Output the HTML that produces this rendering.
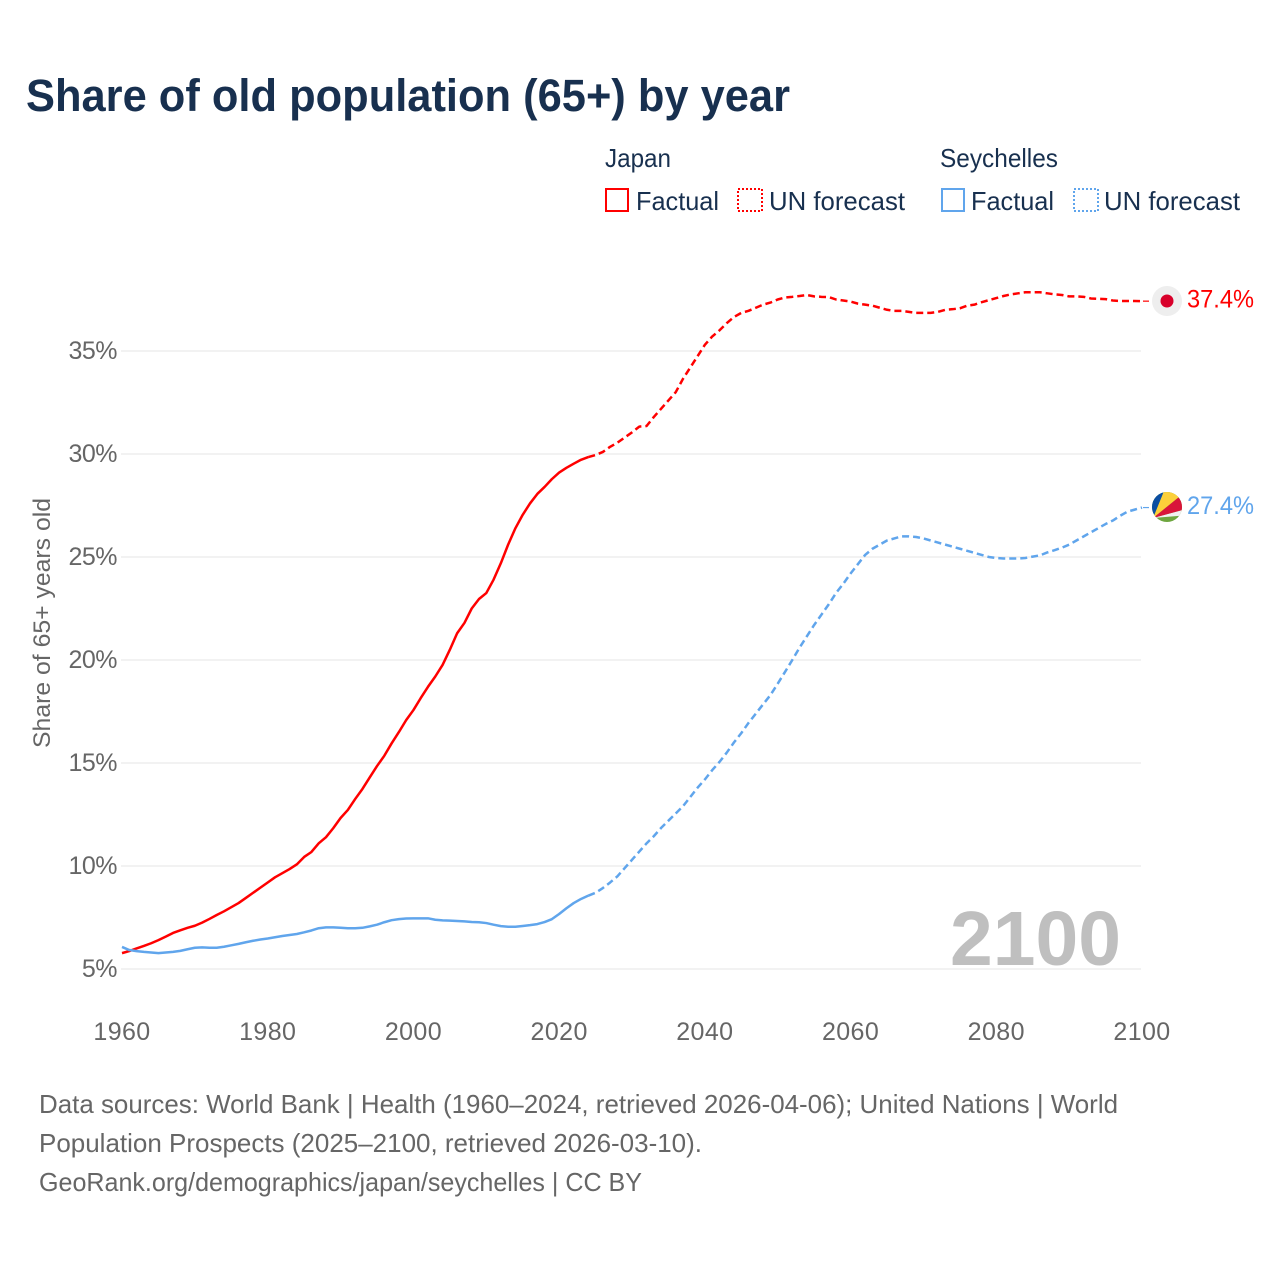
<!DOCTYPE html>
<html lang="en">
<head>
<meta charset="utf-8">
<title>Share of old population (65+) by year</title>
<style>
html,body{margin:0;padding:0;background:#fff;width:1280px;height:1280px;overflow:hidden}
svg{display:block}
text{font-family:"Liberation Sans",sans-serif}
.lg{font-size:26px;fill:#18304f}
.ft{font-size:26px;fill:#666}
</style>
</head>
<body>
<svg id="chart" xmlns="http://www.w3.org/2000/svg" width="1280" height="1280" viewBox="0 0 1280 1280">
  <rect width="1280" height="1280" fill="#fff"/>
  <text x="26" y="111" font-size="45" font-weight="700" fill="#18304f" textLength="764" lengthAdjust="spacingAndGlyphs">Share of old population (65+) by year</text>

  <g>
    <text class="lg" x="605" y="167" textLength="66" lengthAdjust="spacingAndGlyphs">Japan</text>
    <g>
      <rect x="606" y="189" width="22" height="22" fill="none" stroke="#ff0000" stroke-width="2"/>
      <text class="lg" x="636" y="210" textLength="83" lengthAdjust="spacingAndGlyphs">Factual</text>
    </g>
    <g>
      <rect x="738" y="189" width="24" height="22" fill="none" stroke="#ff0000" stroke-width="2" stroke-dasharray="2 2"/>
      <text class="lg" x="769" y="210" textLength="136" lengthAdjust="spacingAndGlyphs">UN forecast</text>
    </g>
    <text class="lg" x="940" y="167" textLength="118" lengthAdjust="spacingAndGlyphs">Seychelles</text>
    <g>
      <rect x="942" y="189" width="22" height="22" fill="none" stroke="#60a5ec" stroke-width="2"/>
      <text class="lg" x="971" y="210" textLength="83" lengthAdjust="spacingAndGlyphs">Factual</text>
    </g>
    <g>
      <rect x="1074" y="189" width="24" height="22" fill="none" stroke="#60a5ec" stroke-width="2" stroke-dasharray="2 2"/>
      <text class="lg" x="1104" y="210" textLength="136" lengthAdjust="spacingAndGlyphs">UN forecast</text>
    </g>
  </g>

  <text transform="translate(50,623) rotate(-90)" text-anchor="middle" font-size="24.5" fill="#666" textLength="250" lengthAdjust="spacingAndGlyphs">Share of 65+ years old</text>
  <g id="grid"></g>
  <g id="yticks"></g>
  <g id="xticks"></g>
  <text x="950" y="965" font-size="77" font-weight="700" fill="#bfbfbf" textLength="171" lengthAdjust="spacingAndGlyphs">2100</text>
  <g id="series"></g>

  <g>
    <circle cx="1167" cy="301" r="15" fill="#eeeeee"/>
    <circle cx="1167" cy="301" r="6.5" fill="#d8002a"/>
  </g>
  <defs>
    <clipPath id="syc-clip"><circle cx="1167" cy="507" r="15"/></clipPath>
  </defs>
  <g clip-path="url(#syc-clip)">
    <rect x="1150" y="490" width="34" height="34" fill="#6ea63f"/>
    <polygon points="1153,518 1190,515 1190,508" fill="#f1f1f1"/>
    <polygon points="1153,518 1190,508 1190,488" fill="#d9153a"/>
    <polygon points="1153,518 1190,488 1190,486 1166,486" fill="#fcd03a"/>
    <polygon points="1153,518 1148,518 1148,486 1166,486" fill="#0b4ea2"/>
  </g>

  <g>
    <text class="ft" x="39" y="1113" textLength="1079" lengthAdjust="spacingAndGlyphs">Data sources: World Bank | Health (1960–2024, retrieved 2026-04-06); United Nations | World</text>
    <text class="ft" x="39" y="1152" textLength="663" lengthAdjust="spacingAndGlyphs">Population Prospects (2025–2100, retrieved 2026-03-10).</text>
    <text class="ft" x="39" y="1191" textLength="603" lengthAdjust="spacingAndGlyphs">GeoRank.org/demographics/japan/seychelles | CC BY</text>
  </g>
</svg>

<script>
var xTickYears = [1960, 1980, 2000, 2020, 2040, 2060, 2080, 2100];
var yTickValues = [5, 10, 15, 20, 25, 30, 35];
var yTickLabels = ["5%", "10%", "15%", "20%", "25%", "30%", "35%"];
var factualStartYear = 1960;
var forecastStartYear = 2024;

var japanFactual = [5.77,5.87,6.0,6.12,6.25,6.4,6.57,6.75,6.88,7.0,7.1,7.25,7.43,7.62,7.8,8.0,8.2,8.45,8.7,8.95,
  9.2,9.45,9.65,9.85,10.08,10.44,10.68,11.1,11.4,11.84,12.33,12.72,13.25,13.74,14.3,14.85,15.35,15.95,16.5,17.08,
  17.57,18.15,18.7,19.2,19.76,20.5,21.3,21.8,22.5,22.96,23.25,23.9,24.7,25.6,26.4,27.05,27.6,28.06,28.4,28.78,
  29.1,29.33,29.53,29.72,29.85];
var japanForecast = [29.85,29.95,30.1,30.35,30.55,30.8,31.05,31.33,31.36,31.8,32.2,32.6,33.0,33.65,34.2,34.75,
  35.3,35.7,36.0,36.35,36.65,36.85,36.95,37.1,37.25,37.35,37.5,37.6,37.63,37.67,37.72,37.65,37.63,37.62,37.5,37.45,
  37.4,37.3,37.25,37.2,37.1,37.0,36.95,36.95,36.9,36.85,36.85,36.85,36.9,37.0,37.03,37.07,37.2,37.25,37.37,37.47,
  37.57,37.67,37.75,37.8,37.85,37.85,37.85,37.8,37.75,37.72,37.65,37.65,37.63,37.55,37.53,37.52,37.45,37.43,37.43,37.43,37.42];
var seychellesFactual = [6.07,5.92,5.87,5.83,5.8,5.77,5.8,5.83,5.88,5.96,6.03,6.05,6.03,6.03,6.08,6.15,6.22,6.3,6.37,6.43,
  6.48,6.54,6.6,6.65,6.7,6.78,6.87,6.98,7.02,7.02,7.0,6.98,6.98,7.0,7.07,7.15,7.27,7.37,7.42,7.45,
  7.46,7.46,7.46,7.39,7.36,7.35,7.33,7.31,7.28,7.27,7.23,7.15,7.08,7.05,7.05,7.09,7.13,7.18,7.28,7.42,
  7.67,7.95,8.2,8.4,8.56];
var seychellesForecast = [8.56,8.7,8.93,9.2,9.5,9.9,10.3,10.7,11.1,11.45,11.85,12.2,12.55,12.9,13.35,13.8,
  14.2,14.65,15.05,15.5,16.0,16.45,16.95,17.4,17.85,18.3,18.85,19.42,20.0,20.6,21.15,21.7,22.2,22.7,23.25,23.7,
  24.2,24.65,25.1,25.4,25.6,25.8,25.9,26.0,26.0,25.97,25.9,25.8,25.7,25.6,25.5,25.4,25.3,25.2,25.1,25.0,
  24.95,24.93,24.93,24.93,24.95,25.02,25.08,25.22,25.33,25.45,25.6,25.8,26.0,26.2,26.4,26.6,26.77,27.0,27.2,27.3,27.4];
var endLabels = ["37.4%", "27.4%"];

var RED = "#ff0000";
var BLUE = "#60a5ec";
var NS = "http://www.w3.org/2000/svg";

function xScale(year) { return 122 + (year - 1960) * (1142 - 122) / 140; }
function yScale(value) { return 969 - (value - 5) * (969 - 351) / 30; }

function svgEl(tag, parentId) {
  var el = document.createElementNS(NS, tag);
  (typeof parentId === "string" ? document.getElementById(parentId) : parentId).appendChild(el);
  return el;
}

yTickValues.forEach(function (v, i) {
  var line = svgEl("line", "grid");
  
  
  line.setAttribute("x1", 121);
  line.setAttribute("x2", 1141);
  line.setAttribute("y1", yScale(v));
  line.setAttribute("y2", yScale(v));
  line.setAttribute("stroke", "#eeeeee");
  line.setAttribute("stroke-width", 1.6);

  var t = svgEl("text", "yticks");
  
  
  t.setAttribute("x", 117);
  t.setAttribute("y", yScale(v) + 8);
  t.setAttribute("text-anchor", "end");
  t.setAttribute("font-size", 25);
  t.setAttribute("fill", "#666");
  t.setAttribute("letter-spacing", "-0.5");
  t.textContent = yTickLabels[i];
});

xTickYears.forEach(function (year) {
  var t = svgEl("text", "xticks");
  
  
  t.setAttribute("x", xScale(year));
  t.setAttribute("y", 1040);
  t.setAttribute("text-anchor", "middle");
  t.setAttribute("font-size", 25);
  t.setAttribute("fill", "#666");
  t.setAttribute("letter-spacing", "0.4");
  t.textContent = String(year);
});

function toPoints(values, startYear) {
  return values.map(function (v, i) {
    return xScale(startYear + i).toFixed(2) + "," + yScale(v).toFixed(2);
  }).join(" ");
}

function drawLine(values, startYear, color, dashed, name) {
  var p = svgEl("polyline", "series");
  
  
  p.setAttribute("points", toPoints(values, startYear));
  p.setAttribute("fill", "none");
  p.setAttribute("stroke", color);
  p.setAttribute("stroke-width", 2.5);
  p.setAttribute("stroke-linejoin", "round");
  if (dashed) { p.setAttribute("stroke-dasharray", "7 4"); }
}

drawLine(japanFactual, factualStartYear, RED, false, "japan-factual-line");
drawLine(japanForecast, forecastStartYear, RED, true, "japan-forecast-line");
drawLine(seychellesFactual, factualStartYear, BLUE, false, "seychelles-factual-line");
drawLine(seychellesForecast, forecastStartYear, BLUE, true, "seychelles-forecast-line");

function drawEnd(values, color, label, name) {
  var last = values[values.length - 1];
  var y = yScale(last);

  var c = svgEl("line", "series");
  
  
  c.setAttribute("x1", xScale(2100) + 1);
  c.setAttribute("x2", 1150);
  c.setAttribute("y1", y);
  c.setAttribute("y2", y);
  c.setAttribute("stroke", color);
  c.setAttribute("stroke-width", 1.2);
  c.setAttribute("stroke-dasharray", "6 2");

  var t = svgEl("text", "series");
  
  
  t.setAttribute("x", 1187);
  t.setAttribute("y", y + 6.5);
  t.setAttribute("font-size", 25);
  t.setAttribute("fill", color);
  t.setAttribute("textLength", 67);
  t.setAttribute("lengthAdjust", "spacingAndGlyphs");
  t.textContent = label;
}

drawEnd(japanForecast, RED, endLabels[0], "japan");
drawEnd(seychellesForecast, BLUE, endLabels[1], "seychelles");
</script>
</body>
</html>
